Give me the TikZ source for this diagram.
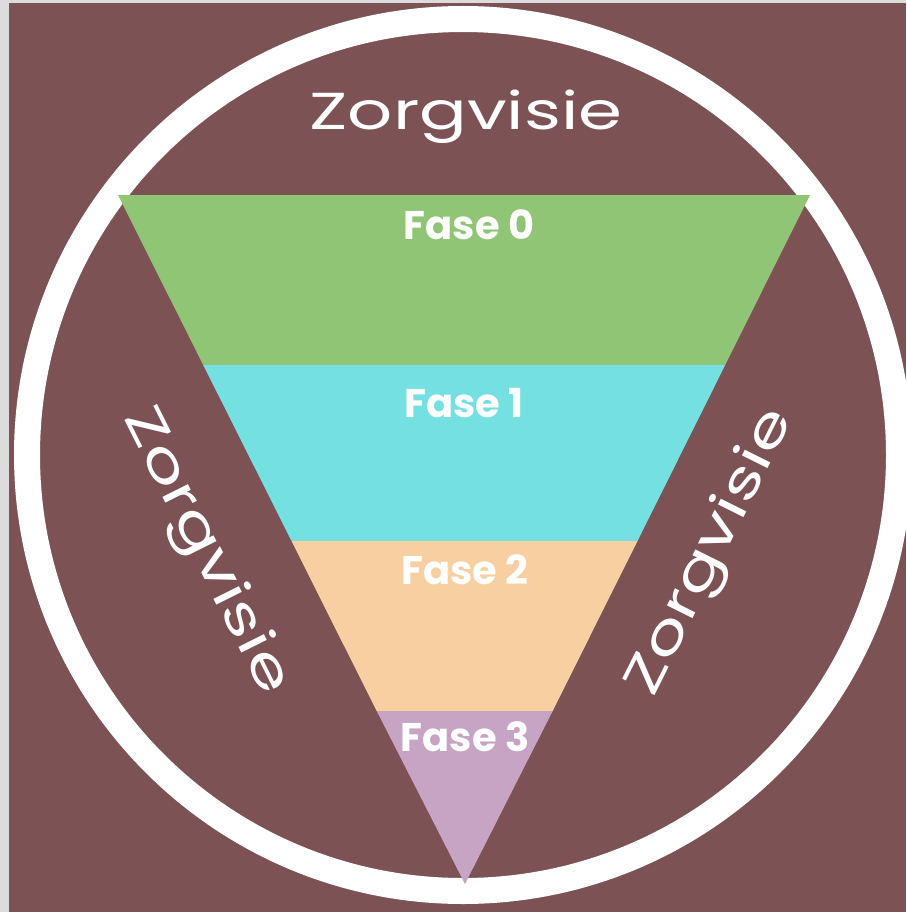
\documentclass[tikz,border=0pt]{standalone}
\usepackage{fontspec}
\setmainfont{Poppins}
\definecolor{graybg}{HTML}{DCDCDC}
\definecolor{brownbg}{HTML}{7C5254}
\definecolor{band0}{HTML}{8FC574}
\definecolor{band1}{HTML}{74E0E2}
\definecolor{band2}{HTML}{F7CFA1}
\definecolor{band3}{HTML}{C7A4C3}
\newcommand{\wideword}[1]{\scalebox{1.36}[1]{#1}}
\tikzset{
  bigword/.style={text=white, font=\fontsize{52}{60}\selectfont, inner sep=0pt},
  faselabel/.style={text=white, font=\fontsize{40}{48}\selectfont\bfseries, inner sep=0pt, anchor=base},
}
\begin{document}
\begin{tikzpicture}[x=1pt,y=-1pt]
\useasboundingbox (0,0) rectangle (906,912);
\fill[graybg] (0,0) rectangle (906,912);
\fill[brownbg] (9,3) rectangle (906,912);
\draw[white, line width=26pt] (463,455) circle[radius=436];
% bands of the inverted triangle
\fill[band0] (118,195) -- (810,195) -- (725.2,365) -- (203.2,365) -- cycle;
\fill[band1] (203.2,365) -- (725.2,365) -- (637.5,541) -- (291.5,541) -- cycle;
\fill[band2] (291.5,541) -- (637.5,541) -- (552.7,711) -- (376.7,711) -- cycle;
\fill[band3] (376.7,711) -- (552.7,711) -- (465,884) -- cycle;
% labels
\node[bigword, anchor=base] (ztop) at (466,130) {\wideword{Zorgvisie}};
\node[bigword, rotate=-63.4] (zleft) at (205,552) {\wideword{Zorgvisie}};
\node[bigword, rotate=63.5] (zright) at (712,553) {\wideword{Zorgvisie}};
\node[faselabel] (f0) at (469,239) {Fase 0};
\node[faselabel] (f1) at (464,417) {Fase 1};
\node[faselabel] (f2) at (465,584) {Fase 2};
\node[faselabel] (f3) at (465,751) {Fase 3};
\end{tikzpicture}
\end{document}
